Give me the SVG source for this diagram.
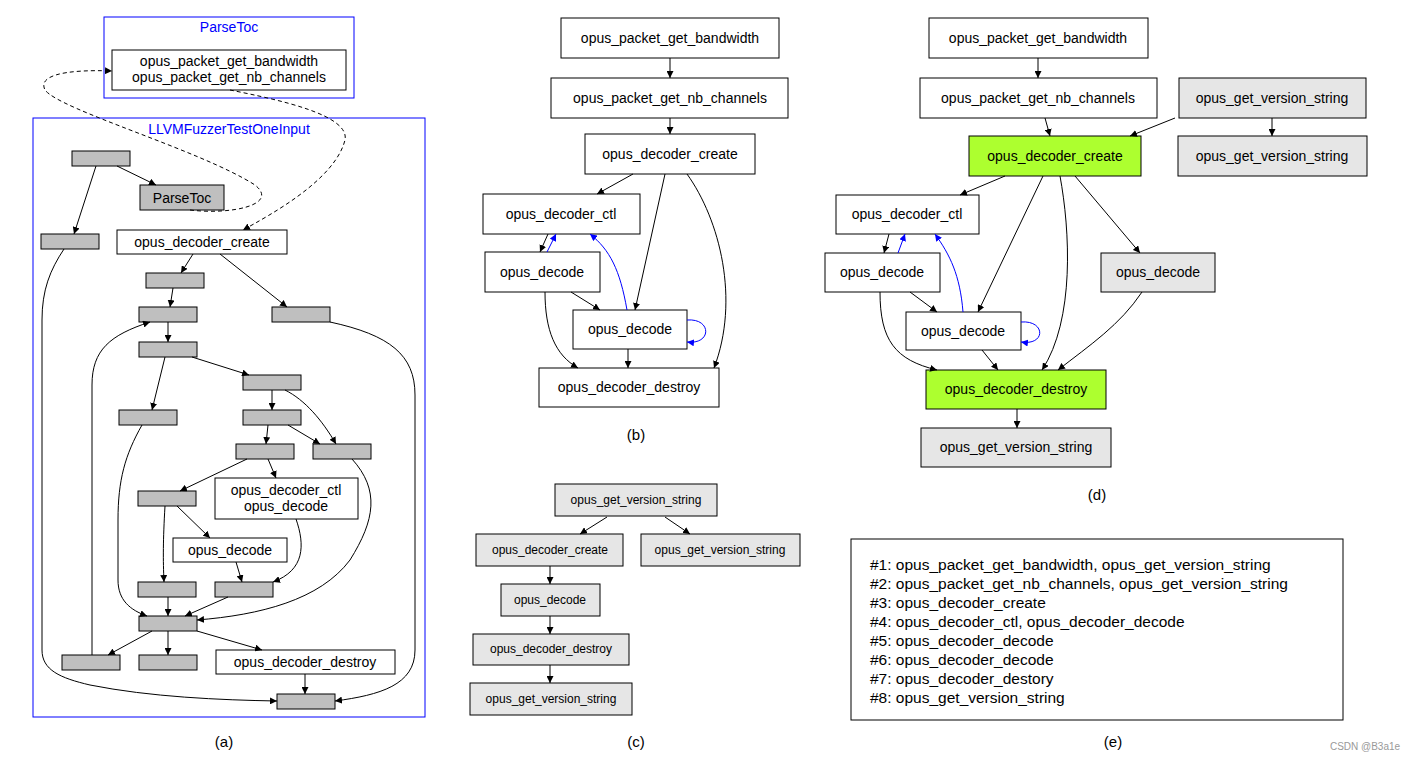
<svg xmlns="http://www.w3.org/2000/svg" width="1406" height="760" viewBox="0 0 1406 760">
<defs>
<marker id="ah" viewBox="0 0 10 10" refX="10" refY="5" markerWidth="7" markerHeight="7" orient="auto-start-reverse" markerUnits="userSpaceOnUse"><path d="M0,0 L10,5 L0,10 z" fill="#000"/></marker>
<marker id="ab" viewBox="0 0 10 10" refX="10" refY="5" markerWidth="7" markerHeight="7" orient="auto" markerUnits="userSpaceOnUse"><path d="M0,0 L10,5 L0,10 z" fill="#00f"/></marker>
<style>
text{font-family:"Liberation Sans",Arial,sans-serif;font-size:14px;fill:#000;text-anchor:middle}
.w{fill:#fff;stroke:#000;stroke-width:1}
.g{fill:#bfbfbf;stroke:#000;stroke-width:1}
.l{fill:#e6e6e6;stroke:#000;stroke-width:1}
.gr{fill:#adff2f;stroke:#000;stroke-width:1}
.cl{fill:none;stroke:#00f;stroke-width:1}
.ct{fill:#00f}
.e{fill:none;stroke:#000;stroke-width:1;marker-end:url(#ah)}
.d{fill:none;stroke:#000;stroke-width:1;stroke-dasharray:4,3;marker-end:url(#ah)}
.b{fill:none;stroke:#00f;stroke-width:1;marker-end:url(#ab)}
.s{font-size:12px}
.cap{font-size:15px}
.le{font-size:15.5px;text-anchor:start}
</style>
</defs>
<rect width="1406" height="760" fill="#fff"/>
<!-- panel a -->
<g id="clusterParseToc"><rect class="cl" x="104" y="17" width="250" height="81"/><text class="ct" x="229" y="32">ParseToc</text></g>
<g id="clusterLLVM"><rect class="cl" x="33" y="118" width="392" height="599"/><text class="ct" x="229" y="134">LLVMFuzzerTestOneInput</text></g>
<g id="a_pt"><rect class="w" x="112" y="50" width="234" height="40"/><text x="229" y="66">opus_packet_get_bandwidth</text><text x="229" y="82">opus_packet_get_nb_channels</text></g>
<g id="a_n1"><rect class="g" x="72" y="151" width="58" height="15"/></g>
<g id="a_parsetoc"><rect class="g" x="140" y="185" width="84" height="25"/><text x="182" y="203">ParseToc</text></g>
<g id="a_n2"><rect class="g" x="41" y="234" width="58" height="15"/></g>
<g id="a_create"><rect class="w" x="117" y="230" width="170" height="24"/><text x="202" y="247">opus_decoder_create</text></g>
<g id="a_n3"><rect class="g" x="146" y="273" width="58" height="15"/></g>
<g id="a_n4"><rect class="g" x="272" y="307" width="58" height="15"/></g>
<g id="a_n5"><rect class="g" x="139" y="307" width="58" height="15"/></g>
<g id="a_n6"><rect class="g" x="139" y="342" width="58" height="15"/></g>
<g id="a_n7"><rect class="g" x="243" y="375" width="58" height="15"/></g>
<g id="a_n8"><rect class="g" x="119" y="410" width="58" height="15"/></g>
<g id="a_n9"><rect class="g" x="243" y="410" width="58" height="15"/></g>
<g id="a_n10"><rect class="g" x="236" y="444" width="58" height="15"/></g>
<g id="a_n11"><rect class="g" x="313" y="444" width="58" height="15"/></g>
<g id="a_n12"><rect class="g" x="138" y="491" width="58" height="15"/></g>
<g id="a_ctl"><rect class="w" x="215" y="478" width="143" height="41"/><text x="286" y="495">opus_decoder_ctl</text><text x="286" y="511">opus_decode</text></g>
<g id="a_decode"><rect class="w" x="173" y="538" width="114" height="24"/><text x="230" y="555">opus_decode</text></g>
<g id="a_n13"><rect class="g" x="138" y="582" width="58" height="15"/></g>
<g id="a_n14"><rect class="g" x="215" y="582" width="58" height="15"/></g>
<g id="a_n15"><rect class="g" x="139" y="616" width="58" height="15"/></g>
<g id="a_n16"><rect class="g" x="62" y="655" width="58" height="15"/></g>
<g id="a_n17"><rect class="g" x="139" y="655" width="58" height="15"/></g>
<g id="a_destroy"><rect class="w" x="216" y="650" width="179" height="24"/><text x="305" y="667">opus_decoder_destroy</text></g>
<g id="a_n18"><rect class="g" x="277" y="694" width="58" height="15"/></g>
<text class="cap" x="224" y="747">(a)</text>
<!-- panel b -->
<g id="b_bw"><rect class="w" x="561" y="18" width="218" height="40"/><text x="670" y="43">opus_packet_get_bandwidth</text></g>
<g id="b_nb"><rect class="w" x="551" y="78" width="237" height="40"/><text x="670" y="103">opus_packet_get_nb_channels</text></g>
<g id="b_create"><rect class="w" x="585" y="134" width="170" height="40"/><text x="670" y="159">opus_decoder_create</text></g>
<g id="b_ctl"><rect class="w" x="483" y="194" width="157" height="40"/><text x="561" y="219">opus_decoder_ctl</text></g>
<g id="b_dec1"><rect class="w" x="485" y="252" width="115" height="40"/><text x="542" y="277">opus_decode</text></g>
<g id="b_dec2"><rect class="w" x="573" y="310" width="114" height="39"/><text x="630" y="334">opus_decode</text></g>
<g id="b_destroy"><rect class="w" x="539" y="368" width="180" height="39"/><text x="629" y="392">opus_decoder_destroy</text></g>
<text class="cap" x="636" y="440">(b)</text>
<!-- panel c -->
<g id="c_v1"><rect class="l" x="555" y="484" width="162" height="32"/><text class="s" x="636" y="504">opus_get_version_string</text></g>
<g id="c_create"><rect class="l" x="476" y="534" width="147" height="32"/><text class="s" x="550" y="554">opus_decoder_create</text></g>
<g id="c_v2"><rect class="l" x="641" y="534" width="159" height="32"/><text class="s" x="720" y="554">opus_get_version_string</text></g>
<g id="c_dec"><rect class="l" x="501" y="584" width="99" height="32"/><text class="s" x="550" y="604">opus_decode</text></g>
<g id="c_destroy"><rect class="l" x="473" y="634" width="156" height="31"/><text class="s" x="551" y="653">opus_decoder_destroy</text></g>
<g id="c_v3"><rect class="l" x="470" y="683" width="162" height="32"/><text class="s" x="551" y="703">opus_get_version_string</text></g>
<text class="cap" x="636" y="747">(c)</text>
<!-- panel d -->
<g id="d_bw"><rect class="w" x="929" y="18" width="219" height="40"/><text x="1038" y="43">opus_packet_get_bandwidth</text></g>
<g id="d_nb"><rect class="w" x="920" y="78" width="237" height="40"/><text x="1038" y="103">opus_packet_get_nb_channels</text></g>
<g id="d_v1"><rect class="l" x="1179" y="78" width="187" height="40"/><text x="1272" y="103">opus_get_version_string</text></g>
<g id="d_create"><rect class="gr" x="969" y="136" width="172" height="40"/><text x="1055" y="161">opus_decoder_create</text></g>
<g id="d_v2"><rect class="l" x="1178" y="136" width="189" height="40"/><text x="1272" y="161">opus_get_version_string</text></g>
<g id="d_ctl"><rect class="w" x="836" y="195" width="143" height="39"/><text x="907" y="219">opus_decoder_ctl</text></g>
<g id="d_dec1"><rect class="w" x="825" y="253" width="115" height="39"/><text x="882" y="277">opus_decode</text></g>
<g id="d_dec3"><rect class="l" x="1101" y="253" width="114" height="39"/><text x="1158" y="277">opus_decode</text></g>
<g id="d_dec2"><rect class="w" x="906" y="312" width="115" height="38"/><text x="963" y="336">opus_decode</text></g>
<g id="d_destroy"><rect class="gr" x="926" y="370" width="180" height="39"/><text x="1016" y="394">opus_decoder_destroy</text></g>
<g id="d_v3"><rect class="l" x="921" y="428" width="190" height="39"/><text x="1016" y="452">opus_get_version_string</text></g>
<text class="cap" x="1097" y="500">(d)</text>
<!-- panel e -->
<g id="e_legend"><rect x="851" y="539" width="492" height="181" fill="#fff" stroke="#000"/>
<text class="le" x="870" y="570">#1: opus_packet_get_bandwidth, opus_get_version_string</text>
<text class="le" x="870" y="589">#2: opus_packet_get_nb_channels, opus_get_version_string</text>
<text class="le" x="870" y="608">#3: opus_decoder_create</text>
<text class="le" x="870" y="627">#4: opus_decoder_ctl, opus_decoder_decode</text>
<text class="le" x="870" y="646">#5: opus_decoder_decode</text>
<text class="le" x="870" y="665">#6: opus_decoder_decode</text>
<text class="le" x="870" y="684">#7: opus_decoder_destory</text>
<text class="le" x="870" y="703">#8: opus_get_version_string</text>
</g>
<text class="cap" x="1113" y="747">(e)</text>
<text x="1365" y="750" style="font-size:10px;fill:#999">CSDN @B3a1e</text>
<g id="connectors">
<!-- a -->
<path class="d" d="M190,210 C230,215 280,205 255,185 C200,150 60,110 45,90 C35,70 90,70 112,71"/>
<path class="d" d="M230,90 C280,100 350,115 345,140 C335,180 270,215 243,230"/>
<path class="e" d="M96,166 L74,234"/>
<path class="e" d="M117,166 L156,185"/>
<path class="e" d="M193,254 L181,273"/>
<path class="e" d="M220,254 L287,307"/>
<path class="e" d="M173,288 L170,307"/>
<path class="e" d="M168,322 L168,342"/>
<path class="e" d="M165,357 L152,410"/>
<path class="e" d="M192,357 L249,375"/>
<path class="e" d="M272,390 L272,410"/>
<path class="e" d="M285,390 C305,400 322,420 336,444"/>
<path class="e" d="M268,425 L266,444"/>
<path class="e" d="M288,425 L320,444"/>
<path class="e" d="M247,459 L180,491"/>
<path class="e" d="M268,459 L276,478"/>
<path class="e" d="M165,506 C163,540 163,560 164,582"/>
<path class="e" d="M177,506 L210,538"/>
<path class="e" d="M236,562 L242,582"/>
<path class="e" d="M296,519 C305,545 305,570 273,582"/>
<path class="e" d="M168,597 L168,616"/>
<path class="e" d="M228,597 L185,616"/>
<path class="e" d="M352,459 C380,490 375,520 350,560 C320,600 260,615 197,620"/>
<path class="e" d="M142,425 C125,455 118,480 118,520 L118,580 C118,600 130,610 147,616"/>
<path class="e" d="M330,322 C390,335 415,355 415,395 L415,650 C415,685 380,695 335,701"/>
<path class="e" d="M64,249 C50,270 42,290 42,320 L42,650 C42,670 60,678 90,685 C150,697 220,700 277,701"/>
<path class="e" d="M152,631 L108,655"/>
<path class="e" d="M168,631 L168,655"/>
<path class="e" d="M197,631 L262,650"/>
<path class="e" d="M305,674 L305,694"/>
<path class="e" d="M92,655 L92,385 C92,350 110,335 150,322"/>
<!-- b -->
<path class="e" d="M670,58 L670,78"/>
<path class="e" d="M670,118 L670,134"/>
<path class="e" d="M633,174 L597,194"/>
<path class="e" d="M665,174 L635,310"/>
<path class="e" d="M687,174 C720,220 740,300 714,368"/>
<path class="e" d="M548,234 L540,252"/>
<path class="b" d="M547,252 L556,234"/>
<path class="b" d="M627,310 C620,270 610,250 590,234"/>
<path class="e" d="M571,292 L600,310"/>
<path class="e" d="M545,292 C545,330 555,355 578,368"/>
<path class="e" d="M628,349 L628,368"/>
<path class="b" d="M687,320 C712,318 712,345 687,342"/>
<!-- c -->
<path class="e" d="M607,517 L580,534"/>
<path class="e" d="M665,517 L690,534"/>
<path class="e" d="M550,566 L550,584"/>
<path class="e" d="M550,616 L550,634"/>
<path class="e" d="M550,665 L550,683"/>
<!-- d -->
<path class="e" d="M1038,58 L1038,78"/>
<path class="e" d="M1045,118 L1050,136"/>
<path class="e" d="M1175,118 L1130,136"/>
<path class="e" d="M1272,118 L1272,136"/>
<path class="e" d="M1005,176 L960,195"/>
<path class="e" d="M1043,176 L978,312"/>
<path class="e" d="M1060,176 C1070,230 1075,320 1042,370"/>
<path class="e" d="M1075,176 L1140,253"/>
<path class="e" d="M1142,292 C1120,325 1090,345 1058,370"/>
<path class="e" d="M889,234 L884,253"/>
<path class="b" d="M898,253 L905,234"/>
<path class="b" d="M963,312 C960,275 950,255 935,234"/>
<path class="e" d="M880,292 C880,340 895,360 937,370"/>
<path class="e" d="M910,292 L937,312"/>
<path class="e" d="M982,350 L998,370"/>
<path class="e" d="M1017,409 L1017,428"/>
<path class="b" d="M1021,322 C1046,320 1046,346 1021,342"/>
</g>
</svg>
